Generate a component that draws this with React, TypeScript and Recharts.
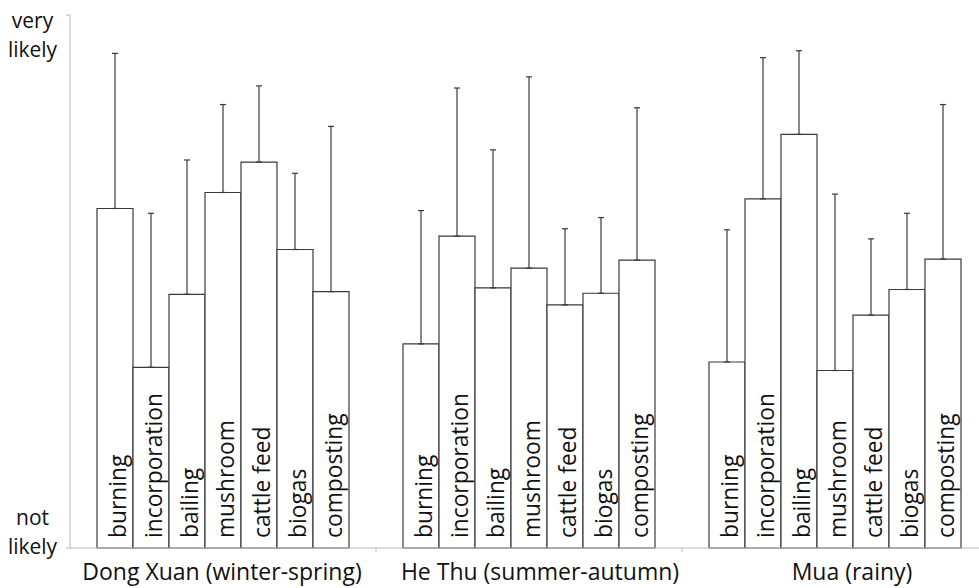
import { BarChart, Bar, XAxis, YAxis, ErrorBar } from 'recharts';

const seasons = ['Dong Xuan (winter-spring)', 'He Thu (summer-autumn)', 'Mua (rainy)'];
const methods = ['burning', 'incorporation', 'bailing', 'mushroom', 'cattle feed', 'biogas', 'composting'];

// mean likelihood per method, 0 = not likely, 100 = very likely
const dongXuanMean = [63.7, 33.9, 47.6, 66.7, 72.4, 56.0, 48.1];
const dongXuanErr = [29.1, 28.9, 25.2, 16.5, 14.3, 14.3, 31.0];
const heThuMean = [38.3, 58.5, 48.8, 52.5, 45.6, 47.8, 54.0];
const heThuErr = [25.0, 27.8, 25.9, 35.9, 14.3, 14.2, 28.6];
const muaMean = [34.9, 65.5, 77.6, 33.3, 43.7, 48.5, 54.2];
const muaErr = [24.8, 26.5, 15.7, 33.1, 14.3, 14.3, 29.0];

const yTicks = [0, 100];
const yTickText = [['not', 'likely'], ['very', 'likely']];

const means = [dongXuanMean, heThuMean, muaMean];
const errs = [dongXuanErr, heThuErr, muaErr];

const data = seasons.map((season, s) => {
  const row: Record<string, any> = { season };
  methods.forEach((m, i) => {
    row[m] = means[s][i];
    row[m + '_err'] = [0, errs[s][i]];
  });
  return row;
});

const INK = '#3a3a3a';
const AXIS = '#b8b8b8';
const TEXT = '#111';

// nudge for category labels, they are not centred exactly in the original
const seasonDx = [-1, 11, 17];

function SeasonTick(props: any) {
  const { x, y, payload, index } = props;
  const axisY = y - 4;
  const half = payload.offset ?? 0;
  return (
    <g>
      {index > 0 && (
        <line x1={x - half} x2={x - half} y1={axisY} y2={axisY + 4} stroke={AXIS} />
      )}
      <text
        x={x + seasonDx[index]}
        y={axisY + 32}
        textAnchor="middle"
        fill={TEXT}
        fontSize={23}
        fontFamily="Open Sans"
      >
        {payload.value}
      </text>
    </g>
  );
}

function LikelyTick(props: any) {
  const { x, y, payload } = props;
  const lines = yTickText[yTicks.indexOf(payload.value)];
  const top = payload.value === 0 ? -23 : 13;
  return (
    <text x={x - 31.5} y={y} textAnchor="middle" fill={TEXT} fontSize={21} fontFamily="Open Sans">
      <tspan x={x - 31.5} dy={top}>{lines[0]}</tspan>
      <tspan x={x - 31.5} dy={29}>{lines[1]}</tspan>
    </text>
  );
}

const methodLabel = (name: string) => (props: any) => {
  const vb = props.viewBox ?? props;
  const x = vb.x ?? props.x;
  const y = vb.y ?? props.y;
  const w = vb.width ?? props.width;
  const h = vb.height ?? props.height;
  const cx = x + w / 2 + 10.5;
  const bottom = y + h - 10;
  return (
    <text
      x={cx}
      y={bottom}
      transform={`rotate(-90 ${cx} ${bottom})`}
      textAnchor="start"
      fill={TEXT}
      fontSize={22.8}
      fontFamily="Open Sans"
    >
      {name}
    </text>
  );
};

export default function App() {
  return (
    <div style={{ position: 'fixed', left: 0, top: 0, width: 979, height: 588, overflow: 'hidden', background: '#fff' }}>
      <BarChart
        width={988}
        height={588}
        data={data}
        margin={{ top: 15, right: 0, bottom: 0, left: 0 }}
        barGap={0}
        barSize={36}
        style={{ fontFamily: 'Open Sans' }}
      >
        <XAxis
          dataKey="season"
          height={40}
          stroke={AXIS}
          tickLine={false}
          tickSize={4}
          tickMargin={0}
          tick={<SeasonTick />}
          interval={0}
        />
        <YAxis
          width={70}
          domain={[0, 100]}
          ticks={yTicks}
          stroke={AXIS}
          tickSize={4}
          tickMargin={2}
          tick={<LikelyTick />}
          interval={0}
        />
        {methods.map((m) => (
          <Bar
            key={m}
            dataKey={m}
            fill="#fff"
            stroke={INK}
            strokeWidth={1.2}
            isAnimationActive={false}
            label={methodLabel(m)}
          >
            <ErrorBar dataKey={m + '_err'} direction="y" width={3} stroke={INK} strokeWidth={1.2} />
          </Bar>
        ))}
      </BarChart>
    </div>
  );
}
